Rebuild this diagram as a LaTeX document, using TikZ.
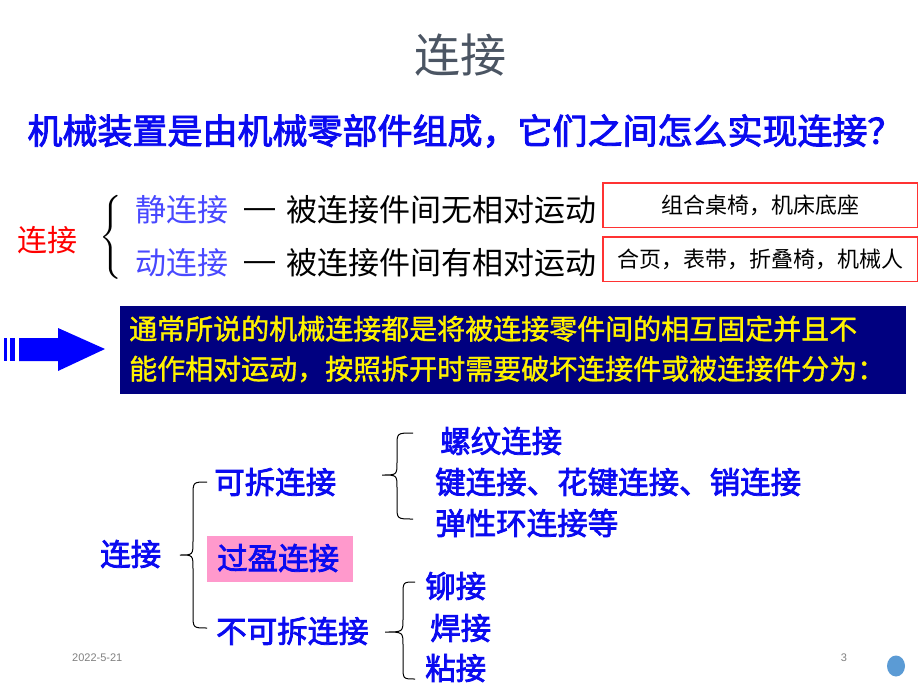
\documentclass[tikz,border=0pt]{standalone}
\usepackage{fontspec}
\setmainfont{Liberation Sans}
\newfontfamily\cjk{Noto Sans CJK SC}
\newfontfamily\cjkb[FakeBold=2.5]{Noto Sans CJK SC}
\newfontfamily\cjkm[FakeBold=1.2]{Noto Sans CJK SC}
\definecolor{ttlgray}{HTML}{4B5563}
\definecolor{bblue}{HTML}{0A0AF0}
\definecolor{lblue}{HTML}{4848FF}
\definecolor{navy}{HTML}{000080}
\definecolor{pinkbg}{HTML}{FF99CC}
\definecolor{boxred}{HTML}{FF3333}
\definecolor{dotblue}{HTML}{5B9BD5}
\tikzset{
  txt/.style={inner sep=0pt, anchor=west},
  treetxt/.style={txt, text=bblue, font=\cjkb\fontsize{30.5}{34}\selectfont},
  mid/.style={txt, font=\cjk\fontsize{31}{36}\selectfont},
  exbox/.style={minimum width=314pt, minimum height=44pt, inner sep=0pt, font=\cjk\fontsize{22}{26}\selectfont},
  exframe/.style={draw=boxred, line width=1.4pt},
  brc/.style={line width=1pt, black}
}
\begin{document}
\begin{tikzpicture}[x=1pt,y=-1pt]
\useasboundingbox (0,0) rectangle (920,690);
% title
\node[inner sep=0pt, text=ttlgray, font=\cjk\fontsize{46}{50}\selectfont] (title) at (460,55) {连接};
\node[inner sep=0pt, text=bblue, font=\cjkb\fontsize{35}{40}\selectfont] (q) at (465,131) {机械装置是由机械零部件组成，它们之间怎么实现连接？};
% static / dynamic
\node[txt, text=red, font=\cjk\fontsize{30}{34}\selectfont] (lj) at (17,240) {连接};
\node[inner sep=0pt] (br0) at (111,237) {\scalebox{2.8}{$\Bigg\{$}};
\node[mid, text=lblue] (jing) at (135,210) {静连接};
\node[mid, text=lblue] (dong) at (135,263) {动连接};
\node[txt, font=\fontsize{31}{36}\selectfont] (d1) at (244,213) {—};
\node[txt, font=\fontsize{31}{36}\selectfont] (d2) at (244,266) {—};
\node[mid] (s1) at (286,210) {被连接件间无相对运动};
\node[mid] (s2) at (286,263) {被连接件间有相对运动};
\node[exbox] (b1) at (760,205) {组合桌椅，机床底座};
\node[exbox] (b2) at (760,259) {合页，表带，折叠椅，机械人};
\draw[exframe] (b1.north west) rectangle (b1.south east);
\draw[exframe] (b2.north west) rectangle (b2.south east);
% arrow
\fill[blue] (4,338) rectangle (7,361);
\fill[blue] (10,338) rectangle (15,361);
\fill[blue] (19,338) -- (58,338) -- (58,328) -- (105,349) -- (58,371) -- (58,361) -- (19,361) -- cycle;
\node[fill=navy, minimum width=786pt, minimum height=88pt, inner sep=0pt] (nb) at (513,350) {};
\node[txt, text=yellow, font=\cjkm\fontsize{28}{40}\selectfont, align=left] (nt) at (129,349) {通常所说的机械连接都是将被连接零件间的相互固定并且不\\能作相对运动，按照拆开时需要破坏连接件或被连接件分为：};
% tree
\node[treetxt] (root) at (100,554) {连接};
\node[fill=pinkbg, minimum width=146pt, minimum height=46pt, inner sep=0pt] (pk) at (280,559) {};
\node[treetxt] (ke) at (214,482) {可拆连接};
\node[treetxt] (gy) at (217,558) {过盈连接};
\node[treetxt] (bk) at (216,631) {不可拆连接};
\node[treetxt] (lw) at (440,441) {螺纹连接};
\node[treetxt] (jl) at (435,482) {键连接、花键连接、销连接};
\node[treetxt] (tx) at (435,523) {弹性环连接等};
\node[treetxt] (mj) at (425,586) {铆接};
\node[treetxt] (hj) at (430,628) {焊接};
\node[treetxt] (nj) at (425,668) {粘接};
% braces
\draw[brc] (207,482) .. controls (193,482) .. (193,496) -- (193,541) .. controls (193,555) .. (180,555) .. controls (193,555) .. (193,569) -- (193,614) .. controls (193,628) .. (207,628);
\draw[brc] (413,433) .. controls (397,433) .. (397,446) -- (397,462) .. controls (397,475) .. (382,475) .. controls (397,475) .. (397,488) -- (397,506) .. controls (397,519) .. (413,519);
\draw[brc] (415,582) .. controls (403,582) .. (403,595) -- (403,619) .. controls (403,632) .. (385,632) .. controls (403,632) .. (403,645) -- (403,666) .. controls (403,679) .. (415,679);
% footer
\node[txt, text=gray, font=\fontsize{11}{13}\selectfont] (date) at (72,658) {2022-5-21};
\node[inner sep=0pt, text=gray, font=\fontsize{11}{13}\selectfont] (pg) at (844,658) {3};
\fill[dotblue] (896,666) ellipse (9 and 10.5);
\end{tikzpicture}
\end{document}
